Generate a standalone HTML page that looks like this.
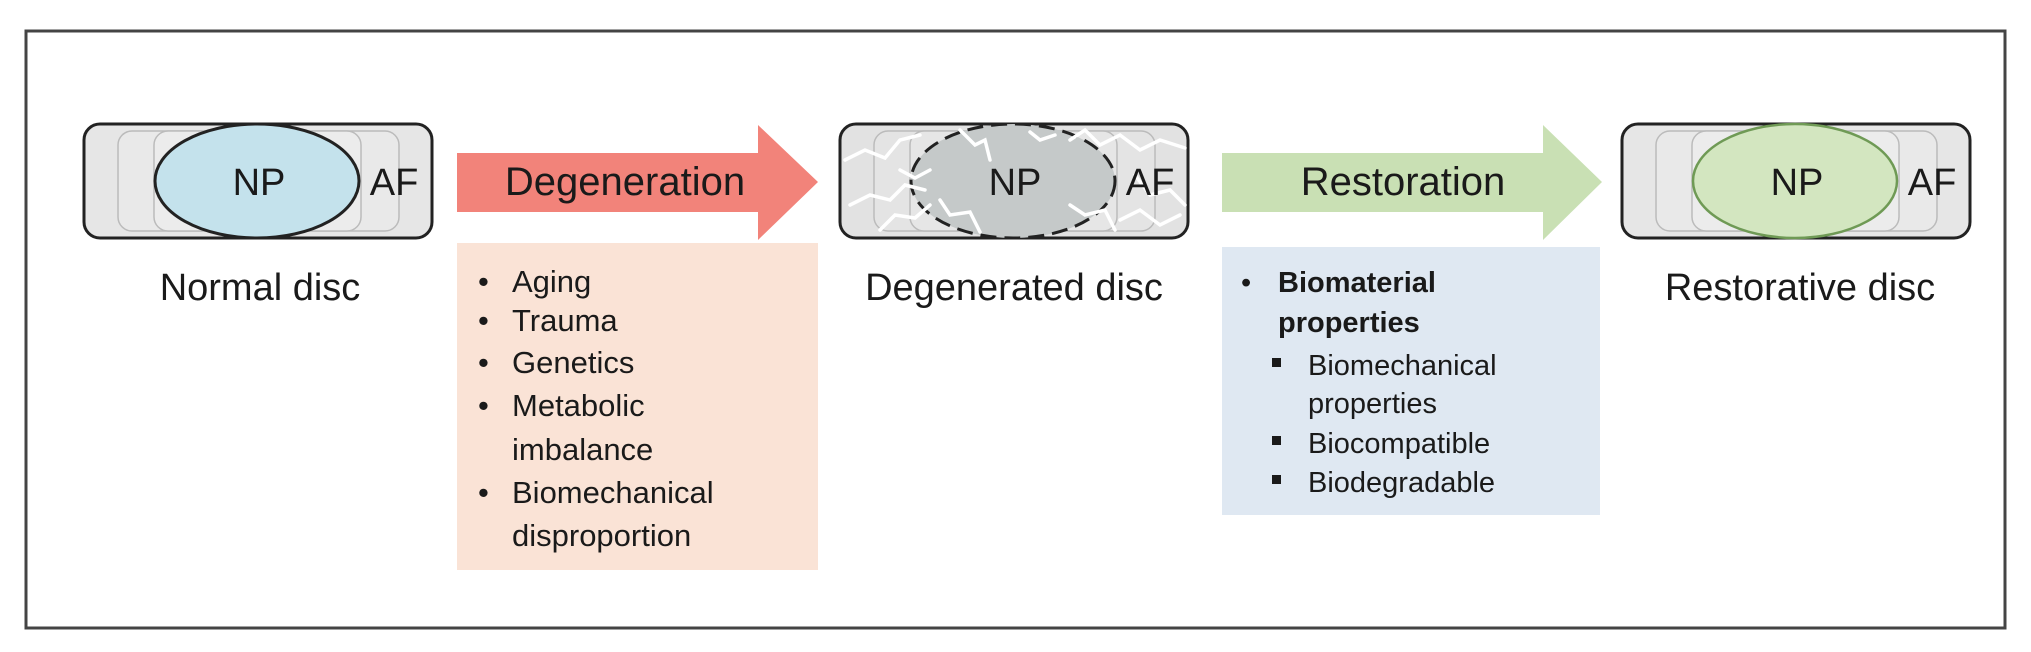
<!DOCTYPE html>
<html><head><meta charset="utf-8"><style>
html,body{margin:0;padding:0;background:#fff;width:2031px;height:652px;overflow:hidden}
svg{display:block}
text{font-family:"Liberation Sans",sans-serif;fill:#1a1a1a}
</style></head><body>
<svg width="2031" height="652" viewBox="0 0 2031 652" xmlns="http://www.w3.org/2000/svg">
<rect x="26" y="31" width="1979" height="597" fill="#fff" stroke="#444" stroke-width="3"/>

<!-- Disc 1 -->
<g transform="translate(84,0)">
<rect x="0" y="124" width="348" height="114" rx="16" fill="#e6e6e6" stroke="#222" stroke-width="3"/>
<rect x="34" y="131" width="281" height="100" rx="14" fill="#e9e9e9" stroke="#bbb" stroke-width="1.5"/>
<rect x="70" y="131" width="207" height="100" rx="14" fill="#ececec" stroke="#bbb" stroke-width="1.5"/>
<ellipse cx="173" cy="181" rx="102" ry="57" fill="#c4e2ec" stroke="#222" stroke-width="3"/>
<text x="175" y="195" font-size="38" text-anchor="middle">NP</text>
<text x="310" y="195" font-size="38" text-anchor="middle">AF</text>
</g>
<text x="260" y="300" font-size="38" text-anchor="middle">Normal disc</text>

<!-- Arrow 1 -->
<polygon points="457,153 758,153 758,125 818,182 758,240 758,212 457,212" fill="#f2837a"/>
<text x="625" y="195" font-size="40" text-anchor="middle">Degeneration</text>
<rect x="457" y="243" width="361" height="327" fill="#fae3d6"/>
<g font-size="31">
<text x="478" y="292">•</text><text x="512" y="292">Aging</text>
<text x="478" y="331">•</text><text x="512" y="331">Trauma</text>
<text x="478" y="373">•</text><text x="512" y="373">Genetics</text>
<text x="478" y="416">•</text><text x="512" y="416">Metabolic</text>
<text x="512" y="460">imbalance</text>
<text x="478" y="503">•</text><text x="512" y="503">Biomechanical</text>
<text x="512" y="546">disproportion</text>
</g>

<!-- Disc 2 -->
<g transform="translate(840,0)">
<rect x="0" y="124" width="348" height="114" rx="16" fill="#e2e2e2" stroke="#222" stroke-width="3"/>
<rect x="34" y="131" width="281" height="100" rx="14" fill="#e4e4e4" stroke="#bbb" stroke-width="1.5"/>
<rect x="70" y="131" width="207" height="100" rx="14" fill="#e6e6e6" stroke="#bbb" stroke-width="1.5"/>
<ellipse cx="173" cy="181" rx="102" ry="57" fill="#c5c9c9" stroke="#222" stroke-width="3" stroke-dasharray="16 8"/>
<g fill="none" stroke="#fff" stroke-width="3.5" stroke-linecap="round">
<path d="M5 160 L25 150 L45 158 L60 140 L80 135"/>
<path d="M10 205 L30 195 L50 200 L65 185 L85 190"/>
<path d="M40 230 L55 215 L75 218 L90 205"/>
<path d="M120 130 L135 145 L145 140 L150 160"/>
<path d="M100 200 L110 215 L130 212 L140 232"/>
<path d="M230 140 L245 130 L260 145 L280 135 L300 150 L320 140 L345 148"/>
<path d="M230 205 L245 215 L265 210 L275 230"/>
<path d="M295 175 L310 195 L330 190 L345 205"/>
<path d="M280 220 L300 210 L320 225 L340 215"/>
<path d="M60 170 L75 178 L90 170"/>
<path d="M190 132 L200 140 L215 135"/>
</g>
<text x="175" y="195" font-size="38" text-anchor="middle">NP</text>
<text x="310" y="195" font-size="38" text-anchor="middle">AF</text>
</g>
<text x="1014" y="300" font-size="38" text-anchor="middle">Degenerated disc</text>

<!-- Arrow 2 -->
<polygon points="1222,153 1543,153 1543,125 1602,182 1543,240 1543,212 1222,212" fill="#c9e0b4"/>
<text x="1403" y="195" font-size="40" text-anchor="middle">Restoration</text>
<rect x="1222" y="247" width="378" height="268" fill="#dfe8f2"/>
<g font-size="29">
<text x="1241" y="292">•</text><text x="1278" y="292" font-weight="bold">Biomaterial</text>
<text x="1278" y="332" font-weight="bold">properties</text>
<rect x="1272" y="358" width="9" height="9" fill="#1a1a1a"/><text x="1308" y="375">Biomechanical</text>
<text x="1308" y="413">properties</text>
<rect x="1272" y="436" width="9" height="9" fill="#1a1a1a"/><text x="1308" y="453">Biocompatible</text>
<rect x="1272" y="475" width="9" height="9" fill="#1a1a1a"/><text x="1308" y="492">Biodegradable</text>
</g>

<!-- Disc 3 -->
<g transform="translate(1622,0)">
<rect x="0" y="124" width="348" height="114" rx="16" fill="#e6e6e6" stroke="#222" stroke-width="3"/>
<rect x="34" y="131" width="281" height="100" rx="14" fill="#e9e9e9" stroke="#bbb" stroke-width="1.5"/>
<rect x="70" y="131" width="207" height="100" rx="14" fill="#ececec" stroke="#bbb" stroke-width="1.5"/>
<ellipse cx="173" cy="181" rx="102" ry="57" fill="#d3e6c0" stroke="#6f9a55" stroke-width="2.5"/>
<text x="175" y="195" font-size="38" text-anchor="middle">NP</text>
<text x="310" y="195" font-size="38" text-anchor="middle">AF</text>
</g>
<text x="1800" y="300" font-size="38" text-anchor="middle">Restorative disc</text>
</svg>
</body></html>
